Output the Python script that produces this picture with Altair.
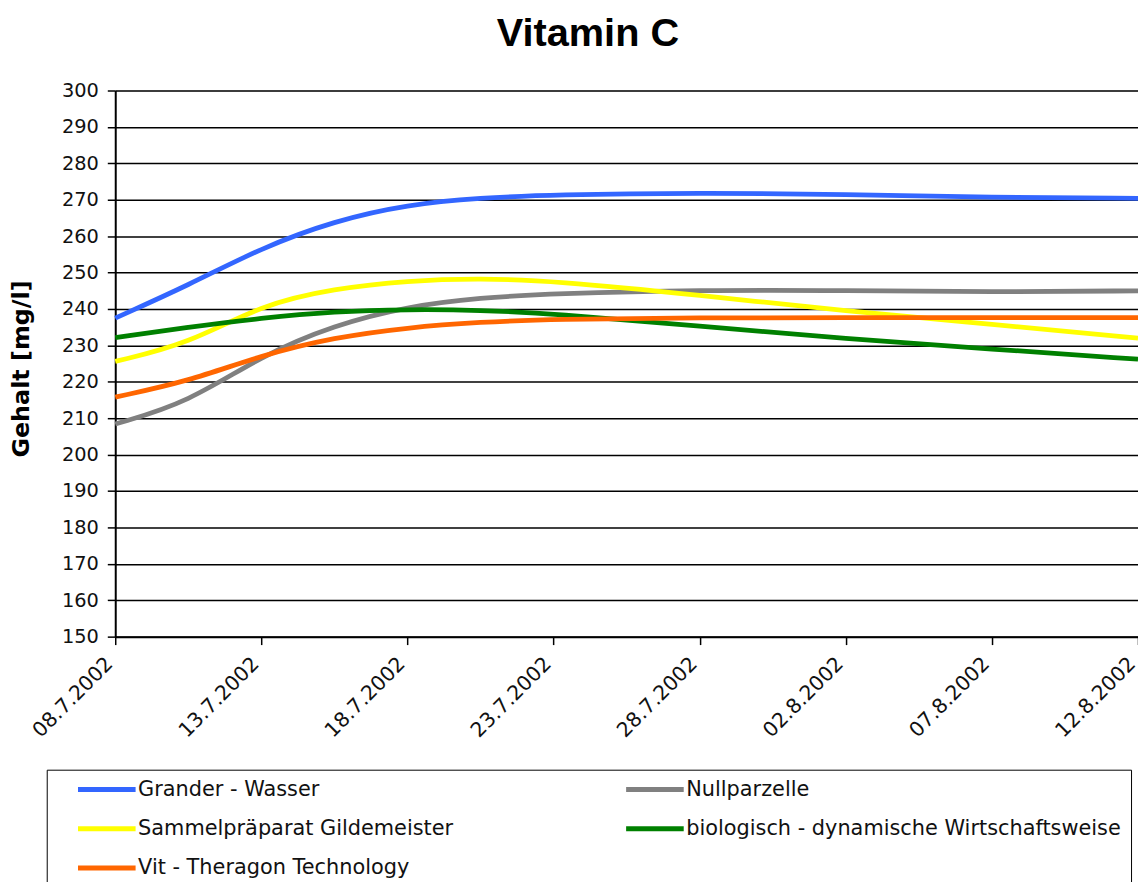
import altair as alt
import pandas as pd

# ---- data ----
dates = ["2002-07-08T00:00", "2002-07-10T12:00", "2002-07-13T00:00", "2002-07-15T12:00",
         "2002-07-18T00:00", "2002-07-20T12:00", "2002-07-23T00:00", "2002-07-28T00:00",
         "2002-08-02T00:00", "2002-08-07T00:00", "2002-08-12T00:00"]

series_names = ["Grander - Wasser", "Nullparzelle", "Sammelpräparat Gildemeister",
                "biologisch - dynamische Wirtschaftsweise", "Vit - Theragon Technology"]
series_colors = ["#3366FF", "#808080", "#FFFF00", "#008000", "#FF6600"]

grander = [237.5, 246.5, 256.8, 264.2, 268.7, 270.5, 271.4, 271.9, 271.5, 270.6, 270.4]
nullparzelle = [208.4, 214.3, 227.2, 235.6, 240.7, 243.1, 244.2, 245.2, 245.1, 244.6, 245.0]
sammel = [225.6, 230.4, 241.2, 245.6, 247.8, 248.4, 247.7, 243.8, 239.4, 235.8, 232.0]
bio = [232.1, 235.0, 237.5, 239.3, 239.9, 239.7, 238.7, 235.3, 231.8, 229.0, 226.2]
vit = [215.8, 220.1, 227.3, 232.2, 234.9, 236.4, 237.2, 237.6, 237.6, 237.6, 237.6]

y_ticks = list(range(150, 301, 10))
x_tick_dates = [(7, 8), (7, 13), (7, 18), (7, 23), (7, 28), (8, 2), (8, 7), (8, 12)]

rows = []
for name, vals in zip(series_names, [grander, nullparzelle, sammel, bio, vit]):
    for d, v in zip(dates, vals):
        rows.append({"Datum": d, "Gehalt": v, "Serie": name})
df = pd.DataFrame(rows)

# legend is filled column by column: col 1 = Grander, Sammel, Vit; col 2 = Null, bio
legend_order = [series_names[0], series_names[2], series_names[4], series_names[1], series_names[3]]
legend_colors = [series_colors[0], series_colors[2], series_colors[4], series_colors[1], series_colors[3]]

x_values = [alt.DateTime(year=2002, month=m, date=d) for m, d in x_tick_dates]

chart = alt.Chart(df).mark_line(
    interpolate="basis", strokeWidth=4.8
).encode(
    x=alt.X(
        "Datum:T",
        scale=alt.Scale(domain=[alt.DateTime(year=2002, month=7, date=8),
                                alt.DateTime(year=2002, month=8, date=12)], nice=False),
        axis=alt.Axis(
            values=x_values, format="%d.%-m.%Y", title=None, grid=False,
            labelAngle=-45, labelAlign="right", labelBaseline="middle",
            labelPadding=16, labelOffset=-6, labelFont="DejaVu Sans", labelFontSize=20.5,
            labelColor="#111111", tickColor="black", tickSize=8, tickWidth=1.5,
            domainColor="black", domainWidth=2, labelOverlap=False,
        ),
    ),
    y=alt.Y(
        "Gehalt:Q",
        scale=alt.Scale(domain=[150, 300], nice=False, zero=False),
        axis=alt.Axis(
            values=y_ticks, title="Gehalt [mg/l]", grid=True, gridColor="black",
            gridWidth=1.5, gridOpacity=1, labelFont="DejaVu Sans", labelFontSize=19.5,
            labelColor="#111111", labelPadding=9, tickColor="black", tickSize=8,
            tickWidth=1.5, domainColor="black", domainWidth=2,
            titleFont="DejaVu Sans", titleFontSize=24, titleFontWeight="bold",
            titleColor="black", titleX=-94, titleY=280, titleAlign="center",
            titleBaseline="middle", titleAngle=-90, labelOverlap=False,
        ),
    ),
    color=alt.Color(
        "Serie:N",
        scale=alt.Scale(domain=legend_order, range=legend_colors),
        legend=alt.Legend(
            title=None, orient="none", legendX=-69, legendY=684, columns=2,
            symbolType="stroke", symbolSize=3364, symbolStrokeWidth=5,
            symbolOffset=19, labelOffset=0, columnPadding=152, rowPadding=18.5,
            clipHeight=20,
            labelFont="DejaVu Sans", labelFontSize=21, labelColor="#111111",
            labelLimit=600, strokeColor="black", padding=10, fillColor="white",
        ),
    ),
).properties(
    width=1030,
    height=550,
    title=alt.TitleParams(
        "Vitamin C", font="Liberation Sans", fontSize=40, fontWeight="bold",
        color="black", anchor="middle", frame="group", dx=-39, dy=45, offset=40,
        baseline="alphabetic",
    ),
    autosize=alt.AutoSizeParams(type="none"),
    padding={"left": 108, "top": 80, "right": 0, "bottom": 244},
).configure_view(
    fill="#C0C0C0", stroke=None
).configure(background="white")

chart.save("out.html", embed_options={"renderer": "svg", "actions": False})
